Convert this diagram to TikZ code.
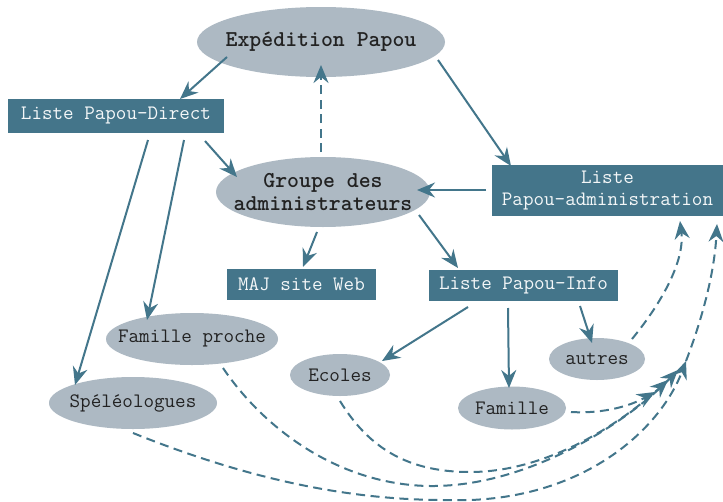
\documentclass[tikz,border=0pt]{standalone}
\usepackage{fontspec}
\newfontfamily\monof{Latin Modern Mono}
\newfontfamily\monob{lmmonolt10-bold.otf}
\usetikzlibrary{shapes.geometric,arrows.meta,calc}
\definecolor{boxc}{HTML}{44758A}
\definecolor{ellc}{HTML}{ADB9C3}
\definecolor{linec}{HTML}{43768B}
\definecolor{txtd}{HTML}{222222}
\begin{document}
\begin{tikzpicture}[x=1pt,y=-1pt,
  box/.style={rectangle, fill=boxc, text=white!94!boxc, font=\monof\fontsize{20.5}{22}\selectfont, inner sep=0pt, align=center},
  ell/.style={ellipse, fill=ellc, inner sep=0pt},
  etxt/.style={text=txtd, font=\monof\fontsize{20.5}{22}\selectfont, inner sep=0pt},
  btxt/.style={text=txtd, font=\monob\fontsize{22.7}{23}\selectfont, inner sep=0pt, align=center},
  conn/.style={draw=linec, line width=2pt, -{Stealth[length=18pt,width=15pt,inset=6pt]}},
  dconn/.style={conn, dash pattern=on 9pt off 5.5pt}]
\useasboundingbox (0,0) rectangle (723,501);
\fill[white] (0,0) rectangle (723,501);

% nodes
\node[ell, minimum width=248pt, minimum height=70pt, label={[btxt]center:Expédition Papou}] (exp) at (321,42) {};
\node[box, minimum width=216pt, minimum height=34pt] (direct) at (116,116) {Liste Papou-Direct};
\node[ell, minimum width=214pt, minimum height=70pt, label={[btxt]center:{Groupe des\\administrateurs}}] (grp) at (323,192) {};
\node[box, minimum width=231pt, minimum height=51pt] (admin) at (607.5,190.5) {Liste\\Papou-administration};
\node[box, minimum width=149pt, minimum height=31pt] (maj) at (301.5,284.5) {MAJ site Web};
\node[box, minimum width=189pt, minimum height=31pt] (info) at (523.5,285.5) {Liste Papou-Info};
\node[ell, minimum width=96pt, minimum height=42pt, label={[etxt]center:autres}] (autres) at (597,359) {};
\node[ell, minimum width=108pt, minimum height=43pt, label={[etxt]center:Famille}] (famille) at (512,408) {};
\node[ell, minimum width=100pt, minimum height=42pt, label={[etxt]center:Ecoles}] (ecoles) at (340,375) {};
\node[ell, minimum width=172pt, minimum height=52pt, label={[etxt]center:Famille proche}] (proche) at (192,339) {};
\node[ell, minimum width=168pt, minimum height=52pt, label={[etxt]center:Spéléologues}] (speleo) at (133,403) {};

% solid connectors
\draw[conn] ($(exp.center)+(-94,15)$) -- ($(direct.center)+(64,-17)$);
\draw[conn] ($(exp.center)+(117,18)$) -- ($(admin.center)+(-96.5,-24.5)$);
\draw[conn] ($(direct.center)+(89,25)$) -- ($(grp.center)+(-86,-15)$);
\draw[dconn] ($(grp.center)+(-2,-40)$) -- ($(exp.center)+(0,23)$);
\draw[conn] ($(admin.center)+(-121.5,-0.5)$) -- ($(grp.center)+(94,-2)$);
\draw[conn] ($(grp.center)+(-6,40)$) -- ($(maj.center)+(1.5,-17.5)$);
\draw[conn] ($(grp.center)+(96,23)$) -- ($(info.center)+(-65.5,-17.5)$);
\draw[conn] ($(direct.center)+(68,24)$) -- ($(proche.center)+(-45,-19)$);
\draw[conn] ($(direct.center)+(32,24)$) -- ($(speleo.center)+(-58,-18)$);
\draw[conn] ($(info.center)+(-55.5,21.5)$) -- ($(ecoles.center)+(42,-14)$);
\draw[conn] ($(info.center)+(-15.5,22.5)$) -- ($(famille.center)+(-3,-20)$);
\draw[conn] ($(info.center)+(56.5,20.5)$) -- ($(autres.center)+(-5,-16)$);

% dashed connectors
\coordinate (t1) at (655,392);
\coordinate (t2) at (668,380);
\coordinate (t3) at (678,370);
\coordinate (t4) at (686,361);
\draw[dconn] ($(autres.center)+(35,-20)$) .. controls (660,305) and (685,262) .. ($(admin.center)+(72.5,30.5)$);
\draw[dconn] ($(famille.center)+(59,4)$) .. controls (605,414) and (632,405) .. (t1);
\draw[dconn] ($(ecoles.center)+(0,26)$) .. controls (370,450) and (410,472) .. (470,472) .. controls (550,472) and (625,420) .. (t2);
\draw[dconn] ($(proche.center)+(31,29)$) .. controls (265,430) and (340,485) .. (430,486) .. controls (530,487) and (630,420) .. (t3);
\draw[dconn] ($(speleo.center)+(0,30)$) .. controls (250,480) and (350,500) .. (445,500) .. controls (580,505) and (660,430) .. (t4);
\draw[dconn] (t4) .. controls (698,330) and (714,280) .. ($(admin.center)+(109.5,33.5)$);
\end{tikzpicture}
\end{document}
